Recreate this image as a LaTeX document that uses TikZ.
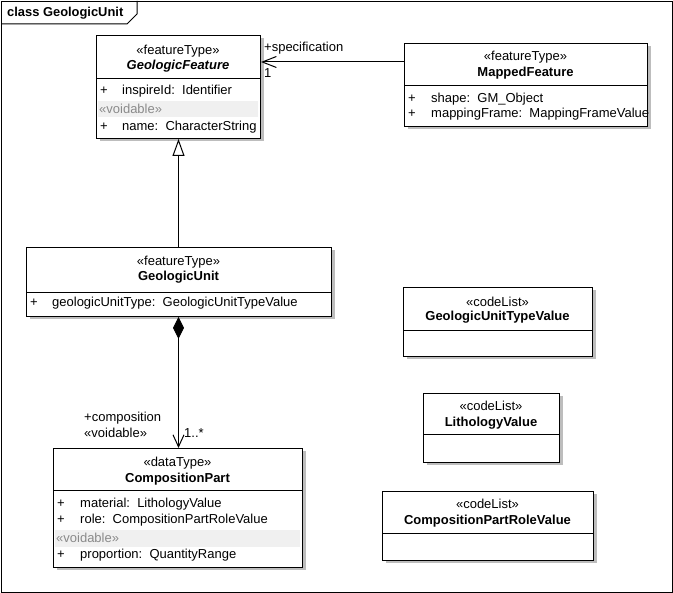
\documentclass[tikz,border=0pt]{standalone}
\usepackage{fontspec}
\setmainfont{Liberation Sans}
\usetikzlibrary{shadows,arrows.meta,calc}
\newcommand\ufont{\fontsize{13}{15}\selectfont}
\definecolor{bandgray}{HTML}{F0F0F0}
\definecolor{voidgray}{HTML}{8A8A8A}
\definecolor{shadowgray}{HTML}{BDBDBD}
\begin{document}
\begin{tikzpicture}[x=1pt,y=-1pt,
  cls/.style={draw=black, fill=white, line width=1pt, inner sep=0pt, anchor=north west,
    drop shadow={shadow xshift=3pt, shadow yshift=-3pt, fill=shadowgray, opacity=1}},
  txt/.style={inner sep=0pt, font=\ufont, anchor=base},
  cname/.style={txt, font=\ufont\bfseries},
  attr/.style={txt, anchor=base west},
  voidtxt/.style={attr, text=voidgray},
  band/.style={fill=bandgray},
  divider/.style={line width=1pt},
  conn/.style={line width=1pt},
  barb/.style={-{Straight Barb[length=14pt,width=11pt,line width=1pt]}}
]
\useasboundingbox (0,0) rectangle (673,593);
\fill[white] (0,0) rectangle (673,593);
% frame
\node[draw=black, line width=1pt, anchor=north west, minimum width=671pt, minimum height=591pt, inner sep=0pt] (frame) at (1,1) {};
\draw[line width=1pt] (frame.north west) ++(0,23) -- ++(126,0) -- ++(10,-10) -- ++(0,-13);
\node[attr, font=\fontsize{12.9}{14}\selectfont\bfseries] (title) at (7,17) {class GeologicUnit};

% GeologicFeature
\node[cls, minimum width=164pt, minimum height=103pt] (gf) at (96,35) {};
\node[txt] (gfs) at (178,55) {«featureType»};
\node[cname, font=\ufont\bfseries\itshape] (gfn) at (178,70) {GeologicFeature};
\draw[divider] ($(gf.north west)+(0,44)$) -- ($(gf.north east)+(0,44)$);
\node[attr] (gfp1) at (100,95) {+};
\node[attr] (gfa1) at (122,95) {inspireId:\ \ Identifier};
\fill[band] ($(gf.north west)+(1.5,66)$) rectangle ($(gf.north east)+(-3,82)$);
\node[voidtxt] (gfv) at (99,114) {«voidable»};
\node[attr] (gfp2) at (100,131) {+};
\node[attr] (gfa2) at (122,131) {name:\ \ CharacterString};

% MappedFeature
\node[cls, minimum width=243pt, minimum height=83pt] (mf) at (404,43) {};
\node[txt] (mfs) at (525.5,61) {«featureType»};
\node[cname] (mfn) at (525.5,77) {MappedFeature};
\draw[divider] ($(mf.north west)+(0,43)$) -- ($(mf.north east)+(0,43)$);
\node[attr] (mfp1) at (408,102.5) {+};
\node[attr] (mfa1) at (431,102.5) {shape:\ \ GM\_Object};
\node[attr] (mfp2) at (408,118) {+};
\node[attr] (mfa2) at (431,118) {mappingFrame:\ \ MappingFrameValue};

% GeologicUnit
\node[cls, minimum width=305pt, minimum height=69pt] (gu) at (26,247) {};
\node[txt] (gus) at (178.5,266) {«featureType»};
\node[cname] (gun) at (178.5,281) {GeologicUnit};
\draw[divider] ($(gu.north west)+(0,46)$) -- ($(gu.north east)+(0,46)$);
\node[attr] (gup1) at (30,306.5) {+};
\node[attr] (gua1) at (52,306.5) {geologicUnitType:\ \ GeologicUnitTypeValue};

% CompositionPart
\node[cls, minimum width=249pt, minimum height=119pt] (cp) at (53,448) {};
\node[txt] (cps) at (177.5,466.5) {«dataType»};
\node[cname] (cpn) at (177.5,482.5) {CompositionPart};
\draw[divider] ($(cp.north west)+(0,43)$) -- ($(cp.north east)+(0,43)$);
\node[attr] (cpp1) at (57,508) {+};
\node[attr] (cpa1) at (80,508) {material:\ \ LithologyValue};
\node[attr] (cpp2) at (57,523.5) {+};
\node[attr] (cpa2) at (80,523.5) {role:\ \ CompositionPartRoleValue};
\fill[band] ($(cp.north west)+(1.5,82)$) rectangle ($(cp.north east)+(-3,99)$);
\node[voidtxt] (cpv) at (56,542.5) {«voidable»};
\node[attr] (cpp3) at (57,559) {+};
\node[attr] (cpa3) at (80,559) {proportion:\ \ QuantityRange};

% GeologicUnitTypeValue
\node[cls, minimum width=189pt, minimum height=69pt] (gutv) at (403,287) {};
\node[txt] (gutvs) at (497.5,306.5) {«codeList»};
\node[cname] (gutvn) at (497.5,321) {GeologicUnitTypeValue};
\draw[divider] ($(gutv.north west)+(0,44)$) -- ($(gutv.north east)+(0,44)$);

% LithologyValue
\node[cls, minimum width=136pt, minimum height=69pt] (lv) at (423,393) {};
\node[txt] (lvs) at (491,410.5) {«codeList»};
\node[cname] (lvn) at (491,426.5) {LithologyValue};
\draw[divider] ($(lv.north west)+(0,42)$) -- ($(lv.north east)+(0,42)$);

% CompositionPartRoleValue
\node[cls, minimum width=211pt, minimum height=69pt] (cprv) at (382,491) {};
\node[txt] (cprvs) at (487.5,508.5) {«codeList»};
\node[cname] (cprvn) at (487.5,525) {CompositionPartRoleValue};
\draw[divider] ($(cprv.north west)+(0,43)$) -- ($(cprv.north east)+(0,43)$);

% connectors
\draw[conn, barb] ($(mf.north west)+(0,19)$) -- ($(gf.north east)+(0,27)$);
\node[attr] (lspec) at (264,52) {+specification};
\node[attr] (lone) at (264,77.5) {1};

\draw[conn, -{Triangle[open,length=17pt,width=12pt,line width=1pt]}] (gu.north -| gf.south) -- (gf.south);

\draw[conn, {Diamond[length=22pt,width=11pt]}-{Straight Barb[length=12pt,width=11pt,line width=1pt]}] (gu.south -| gf.south) -- (cp.north -| gf.south);
\node[attr] (lcomp) at (84,422) {+composition};
\node[attr] (lvoid) at (84,437.5) {«voidable»};
\node[attr] (lmult) at (184,437.5) {1..*};
\end{tikzpicture}
\end{document}
